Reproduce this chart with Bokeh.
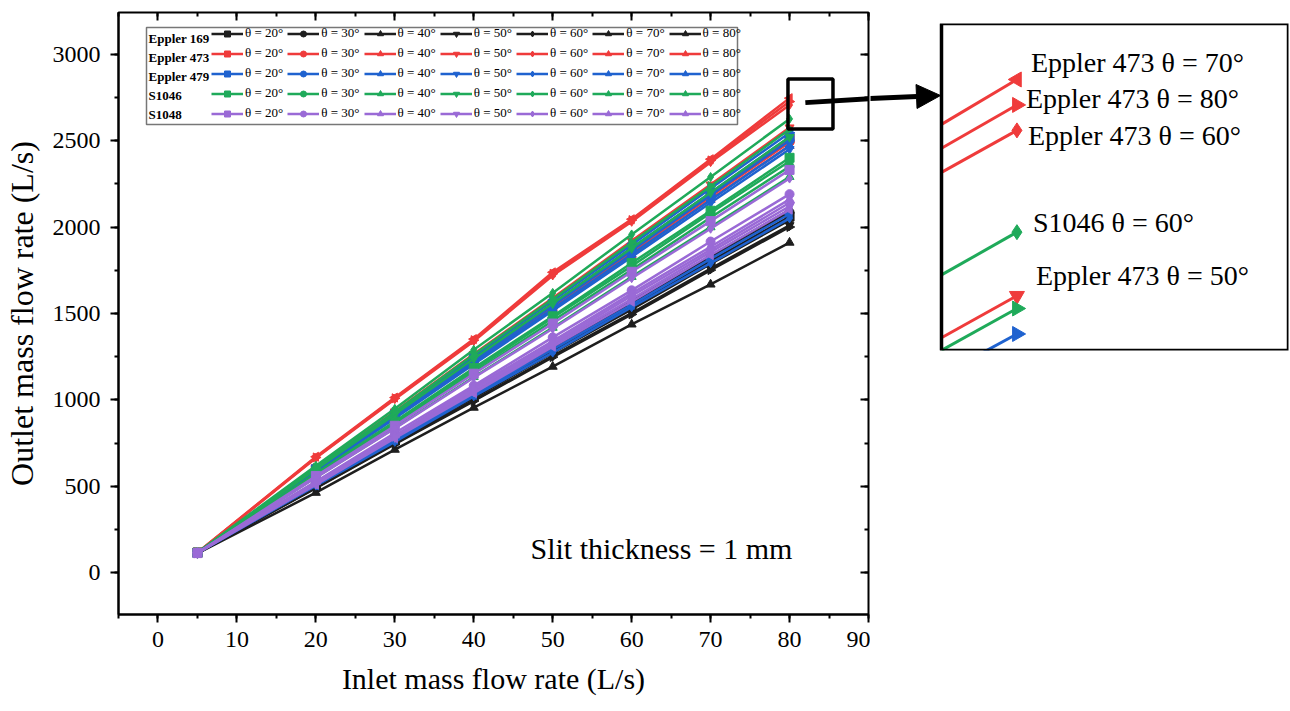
import math
from bokeh.plotting import figure
from bokeh.models import (Range1d, LinearAxis, SingleIntervalTicker, Legend, LegendItem,
                          Label, BoxAnnotation, Arrow, NormalHead, CustomJSTickFormatter)
from bokeh.core.properties import value
from bokeh.layouts import row
from bokeh.embed import file_html
from bokeh.resources import INLINE

# ---------------- data ----------------
inlet_flow = [5, 20, 30, 40, 50, 60, 70, 80]
theta_deg = [20, 30, 40, 50, 60, 70, 80]
airfoil_names = ["Eppler 169", "Eppler 473", "Eppler 479", "S1046", "S1048"]

# outlet mass flow rate (L/s); one row per slit angle θ = 20..80°
eppler169_outlet = [
    [118, 503, 766, 1021, 1285, 1538, 1803, 2060],
    [116, 512, 770, 1037, 1295, 1561, 1820, 2085],
    [114, 464, 713, 956, 1193, 1437, 1668, 1910],
    [115, 493, 749, 998, 1255, 1502, 1760, 2010],
    [117, 515, 775, 1044, 1303, 1572, 1833, 2100],
    [116, 499, 759, 1012, 1272, 1524, 1786, 2040],
    [115, 491, 745, 994, 1248, 1495, 1751, 2000],
]
eppler473_outlet = [
    [117, 597, 911, 1236, 1550, 1873, 2190, 2510],
    [116, 589, 909, 1223, 1542, 1854, 2176, 2490],
    [115, 585, 902, 1213, 1530, 1839, 2160, 2470],
    [117, 610, 933, 1266, 1589, 1920, 2245, 2575],
    [116, 664, 1005, 1340, 1720, 2030, 2375, 2705],
    [118, 672, 1014, 1352, 1738, 2045, 2392, 2745],
    [117, 668, 1010, 1346, 1730, 2040, 2385, 2725],
]
eppler479_outlet = [
    [116, 599, 915, 1241, 1556, 1880, 2198, 2520],
    [115, 594, 912, 1228, 1547, 1864, 2184, 2500],
    [117, 586, 899, 1216, 1527, 1842, 2156, 2470],
    [116, 583, 893, 1207, 1516, 1827, 2140, 2450],
    [116, 505, 758, 1021, 1274, 1536, 1791, 2050],
    [115, 506, 770, 1029, 1293, 1550, 1816, 2075],
    [118, 602, 925, 1251, 1574, 1897, 2222, 2545],
]
s1046_outlet = [
    [117, 575, 875, 1185, 1484, 1792, 2094, 2400],
    [116, 561, 862, 1157, 1458, 1752, 2055, 2350],
    [115, 553, 838, 1133, 1418, 1712, 1999, 2290],
    [116, 599, 917, 1239, 1558, 1878, 2200, 2520],
    [118, 620, 949, 1290, 1619, 1957, 2289, 2625],
    [116, 567, 872, 1171, 1476, 1774, 2081, 2380],
    [117, 607, 931, 1261, 1583, 1911, 2236, 2565],
]
s1048_outlet = [
    [115, 561, 851, 1152, 1442, 1741, 2034, 2330],
    [116, 529, 809, 1083, 1362, 1634, 1916, 2190],
    [117, 527, 795, 1073, 1340, 1616, 1886, 2160],
    [115, 515, 785, 1050, 1320, 1583, 1855, 2120],
    [116, 551, 835, 1129, 1412, 1704, 1990, 2280],
    [118, 511, 779, 1040, 1308, 1568, 1838, 2100],
    [116, 523, 788, 1063, 1328, 1602, 1869, 2140],
]
all_outlet = [eppler169_outlet, eppler473_outlet, eppler479_outlet, s1046_outlet, s1048_outlet]

# zoomed region marked on the main chart, and the region shown in the inset
zoom_box_x = [79.8, 85.5]
zoom_box_y = [2566, 2855]
inset_x = [79.0, 83.6]
inset_y = [2532, 2789]

# ---------------- style ----------------
FONT = "Liberation Serif"
colors = ["#1e1e1e", "#ef3b3b", "#1f62cf", "#1faa5a", "#9a6ad6"]
markers = ["square", "circle", "triangle", "inverted_triangle", "diamond", "triangle", "triangle"]
marker_angle = [0, 0, 0, 0, 0, math.pi / 2, -math.pi / 2]

W1, H = 870, 711
FL, FR, FT, FB = 118, 868, 12, 614
FW, FH = FR - FL, FB - FT

p = figure(width=W1, height=H, x_range=Range1d(-5, 90), y_range=Range1d(-240, 3240),
           output_backend="svg", toolbar_location=None, frame_align=False,
           min_border_left=FL, min_border_right=W1 - FR, min_border_top=FT, min_border_bottom=H - FB)
p.xgrid.visible = False
p.ygrid.visible = False
p.outline_line_color = "black"
p.outline_line_width = 2
p.background_fill_color = "white"
p.border_fill_color = "white"

xa = p.below[0]
ya = p.left[0]
xa.ticker = SingleIntervalTicker(interval=10, num_minor_ticks=2)
ya.ticker = SingleIntervalTicker(interval=500, num_minor_ticks=2)
for ax in (xa, ya):
    ax.axis_line_width = 2
    ax.major_tick_line_width = 2
    ax.minor_tick_line_width = 2
    ax.major_tick_out = 8
    ax.major_tick_in = 0
    ax.minor_tick_out = 4
    ax.minor_tick_in = 0
    ax.major_label_text_font = FONT
    ax.major_label_text_font_size = "24px"
    ax.major_label_text_color = "black"
    ax.axis_label_text_font = FONT
    ax.axis_label_text_font_style = "normal"
    ax.axis_label_text_color = "black"
xa.axis_label = "Inlet mass flow rate (L/s)"
ya.axis_label = "Outlet mass flow rate (L/s)"
xa.axis_label_text_font_size = "30px"
ya.axis_label_text_font_size = "32px"
xa.major_label_standoff = 9
xa.axis_label_standoff = 12
ya.major_label_standoff = 10
ya.axis_label_standoff = 10

blank = CustomJSTickFormatter(code="return ''")
for loc, tick in (("above", SingleIntervalTicker(interval=10, num_minor_ticks=2)),
                  ("right", SingleIntervalTicker(interval=500, num_minor_ticks=2))):
    ax = LinearAxis(ticker=tick, formatter=blank, major_label_standoff=0,
                    major_tick_in=8, major_tick_out=0, minor_tick_in=4, minor_tick_out=0,
                    axis_line_color=None, major_tick_line_width=2, minor_tick_line_width=2)
    p.add_layout(ax, loc)

# ---------------- series ----------------
legend_items = []
for i, name in enumerate(airfoil_names):
    for j, th in enumerate(theta_deg):
        ys = all_outlet[i][j]
        rl = p.line(inlet_flow, ys, line_color=colors[i], line_width=2.5)
        rs = p.scatter(inlet_flow, ys, marker=markers[j], angle=marker_angle[j], size=9,
                       fill_color=colors[i], line_color=colors[i])
        legend_items.append(LegendItem(label=value(f"θ = {th}°"), renderers=[rl, rs]))

# legend frame + row labels
LEG_LEFT, LEG_TOP, LEG_W = 28, 15, 591
ROW_H, ROW_GAP, LEG_PAD = 15, 4, 2
LEG_H = 5 * ROW_H + 4 * ROW_GAP + 2 * LEG_PAD + 2
p.add_layout(BoxAnnotation(left=LEG_LEFT, right=LEG_LEFT + LEG_W, top=FH - LEG_TOP,
                           bottom=FH - LEG_TOP - LEG_H, left_units="screen", right_units="screen",
                           top_units="screen", bottom_units="screen", fill_color="white",
                           fill_alpha=1, line_color="#777777", line_alpha=1, line_width=1.5))
for i, name in enumerate(airfoil_names):
    p.add_layout(Label(x=LEG_LEFT + 2,
                       y=FH - LEG_TOP - 1 - LEG_PAD - ROW_H / 2 - i * (ROW_H + ROW_GAP),
                       x_units="screen", y_units="screen", text=name, text_font=FONT,
                       text_font_style="bold", text_font_size="13px", text_baseline="middle",
                       text_align="left", text_color="black"))

legend = Legend(items=legend_items, orientation="horizontal", ncols=7,
                location=(LEG_LEFT + 63, FH - LEG_TOP - LEG_H + 1),
                glyph_width=32, glyph_height=ROW_H, label_height=ROW_H, label_width=10,
                label_standoff=2, spacing=ROW_GAP, padding=LEG_PAD, margin=0,
                label_text_font=FONT, label_text_font_size="13px", label_text_color="black",
                background_fill_alpha=0, border_line_alpha=0)
p.add_layout(legend)

p.add_layout(Label(x=530 - FL, y=FB - 548, x_units="screen", y_units="screen",
                   text="Slit thickness = 1 mm", text_font=FONT, text_font_size="30px",
                   text_baseline="middle", text_align="left", text_color="black"))

# zoom rectangle and arrow (first part, clipped at the frame edge)
ARROW_START = (82.0, 2719)
ARROW_END_Y_TIP = 95
ARROW_Y_AT_EDGE = 98
p.add_layout(BoxAnnotation(left=zoom_box_x[0], right=zoom_box_x[1], bottom=zoom_box_y[0],
                           top=zoom_box_y[1], fill_alpha=0, line_color="black", line_alpha=1,
                           line_width=3.5))
p.add_layout(Arrow(x_start=ARROW_START[0], y_start=ARROW_START[1], x_end=FW + 4,
                   y_end=FB - ARROW_Y_AT_EDGE,
                   start_units="data", end_units="screen", end=None,
                   line_color="black", line_width=5))

# ---------------- inset ----------------
W2 = 1290 - W1
BOX_L, BOX_R, BOX_T, BOX_B = 941 - W1, 1288 - W1, 23, 350
px_unit = (BOX_R - BOX_L) / (inset_x[1] - inset_x[0])
q_x0 = inset_x[0] - BOX_L / px_unit   # frame extends left so the arrow can be drawn

q = figure(width=W2, height=H, x_range=Range1d(q_x0, inset_x[1]), y_range=Range1d(*inset_y),
           output_backend="svg", toolbar_location=None, frame_align=False,
           x_axis_location=None, y_axis_location=None,
           min_border_left=0, min_border_right=W2 - BOX_R, min_border_top=BOX_T,
           min_border_bottom=H - BOX_B)
q.xgrid.visible = False
q.ygrid.visible = False
q.outline_line_color = None
q.border_fill_color = "white"


def clip_left(xs, ys, x_min):
    """Cut a polyline at x = x_min (keeps the part to the right)."""
    out_x, out_y = [], []
    for k in range(len(xs)):
        if xs[k] >= x_min:
            if k > 0 and xs[k - 1] < x_min:
                t = (x_min - xs[k - 1]) / (xs[k] - xs[k - 1])
                out_x.append(x_min)
                out_y.append(ys[k - 1] + t * (ys[k] - ys[k - 1]))
            out_x.append(xs[k])
            out_y.append(ys[k])
    return out_x, out_y


for i, name in enumerate(airfoil_names):
    for j, th in enumerate(theta_deg):
        cx, cy = clip_left(inlet_flow, all_outlet[i][j], inset_x[0])
        q.line(cx, cy, line_color=colors[i], line_width=3)
        q.scatter(inlet_flow, all_outlet[i][j], marker=markers[j], angle=marker_angle[j],
                  size=15, fill_color=colors[i], line_color=colors[i])

q.add_layout(BoxAnnotation(left=inset_x[0], right=inset_x[1], bottom=inset_y[0], top=inset_y[1],
                           fill_alpha=0, line_color="black", line_alpha=1, line_width=3.5))

inset_labels = [  # (airfoil index, theta index, x offset, y offset)
    (1, 5, 14, 17),
    (1, 6, 9, 6),
    (1, 4, 11, -5),
    (3, 4, 16, 10),
    (1, 3, 19, 20),
]
for ai, tj, dx, dy in inset_labels:
    q.add_layout(Label(x=inlet_flow[-1], y=all_outlet[ai][tj][-1], x_offset=dx, y_offset=dy,
                       text=f"{airfoil_names[ai]} θ = {theta_deg[tj]}°", text_font=FONT,
                       text_font_size="28px", text_baseline="middle", text_align="left",
                       text_color="black"))

q.add_layout(Label(x=(BOX_L + BOX_R) / 2, y=BOX_B - 383, x_units="screen", y_units="screen",
                   text="zoomed view", text_font=FONT, text_font_style="bold",
                   text_font_size="24px", text_baseline="middle", text_align="center",
                   text_color="black"))
q.add_layout(Arrow(x_start=-2, y_start=BOX_B - ARROW_Y_AT_EDGE, x_end=BOX_L - 1,
                   y_end=BOX_B - ARROW_END_Y_TIP, start_units="screen", end_units="screen",
                   end=NormalHead(size=24, fill_color="black", fill_alpha=1, line_color="black",
                                  line_width=1),
                   line_color="black", line_width=5))

layout = row(p, q, spacing=0)
open("out.html", "w").write(file_html(layout, INLINE))
